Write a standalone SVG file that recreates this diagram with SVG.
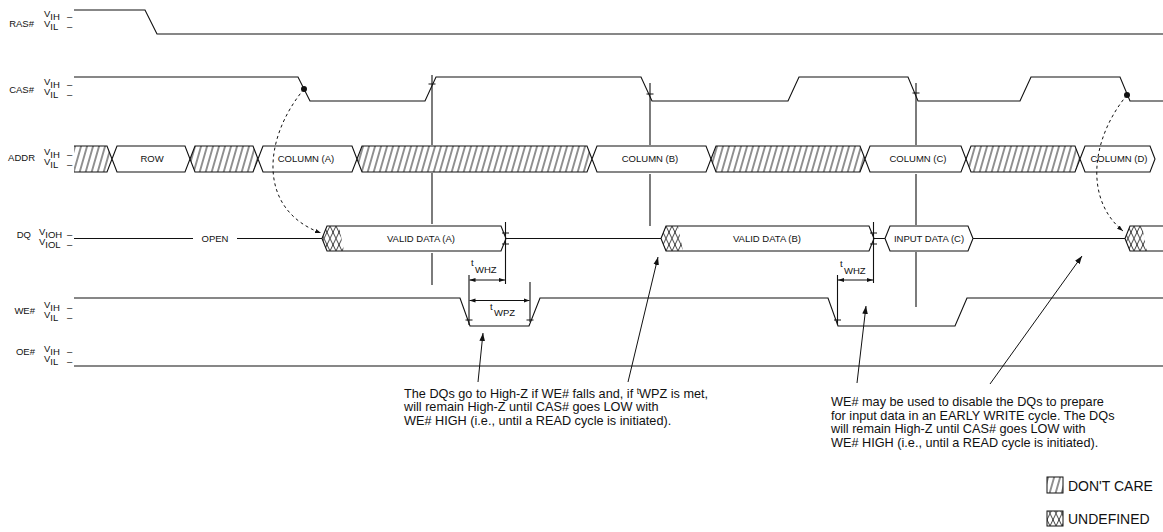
<svg xmlns="http://www.w3.org/2000/svg" width="1163" height="532" viewBox="0 0 1163 532">
<style>
.s{fill:none;stroke:#111;stroke-width:1.1}
.b{fill:#fff;stroke:#111;stroke-width:1.1}
.h{fill:url(#dc);stroke:none}
.x{fill:url(#ud);stroke:none}
.t{font-family:"Liberation Sans",Arial,sans-serif;font-size:9.5px;fill:#111}
.c{text-anchor:middle}
.e{text-anchor:end}
.a{font-family:"Liberation Sans",Arial,sans-serif;font-size:12.7px;fill:#111}
.g{font-family:"Liberation Sans",Arial,sans-serif;font-size:14px;fill:#111}
.d{fill:none;stroke:#111;stroke-width:1;stroke-dasharray:3 3}
.ar{fill:none;stroke:#111;stroke-width:1;marker-end:url(#ah2)}
.dm{fill:none;stroke:#111;stroke-width:1;marker-start:url(#ah);marker-end:url(#ah)}
</style>
<defs>
<pattern id="dc" patternUnits="userSpaceOnUse" width="6" height="10" patternTransform="skewX(-16)">
<line x1="3" y1="-1" x2="3" y2="11" stroke="#111" stroke-width="0.9"/>
</pattern>
<pattern id="ud" patternUnits="userSpaceOnUse" x="0" y="226" width="6" height="12.5">
<path d="M0,0 L6,12.5 M6,0 L0,12.5" stroke="#111" stroke-width="0.8"/>
</pattern>
<marker id="ah" viewBox="0 0 10 10" refX="10" refY="5" markerWidth="6" markerHeight="6" markerUnits="userSpaceOnUse" orient="auto-start-reverse">
<path d="M0,1.5 L10,5 L0,8.5 z" fill="#111"/>
</marker>
<marker id="ah2" viewBox="0 0 10 10" refX="10" refY="5" markerWidth="8" markerHeight="8" markerUnits="userSpaceOnUse" orient="auto">
<path d="M0,1.5 L10,5 L0,8.5 z" fill="#111"/>
</marker>
</defs>
<rect width="1163" height="532" fill="#fff"/>

<g id="ras">
<text class="t e" x="34" y="27.4">RAS#</text>
<text class="t" x="44" y="16.8">V<tspan dy="3">IH</tspan><tspan x="67">–</tspan></text>
<text class="t" x="44" y="26.8">V<tspan dy="3">IL</tspan><tspan x="67">–</tspan></text>
<path class="s" d="M74,10 H145 L157,34 H1163"/>
</g>

<g id="cas">
<text class="t e" x="34" y="93.4">CAS#</text>
<text class="t" x="44" y="84.8">V<tspan dy="3">IH</tspan><tspan x="67">–</tspan></text>
<text class="t" x="44" y="94.8">V<tspan dy="3">IL</tspan><tspan x="67">–</tspan></text>
<path class="s" d="M74,77 H298 L310,101 H425 L436,77 H641 L652,101 H788 L799,77 H908 L918,101 H1020 L1031,77 H1120 L1130,101 H1163"/>
<circle cx="304" cy="89" r="3" fill="#111"/>
<circle cx="1127" cy="95" r="3" fill="#111"/>
</g>

<g id="addr">
<text class="t e" x="35" y="161.4">ADDR</text>
<text class="t" x="44" y="154.8">V<tspan dy="3">IH</tspan><tspan x="67">–</tspan></text>
<text class="t" x="44" y="164.8">V<tspan dy="3">IL</tspan><tspan x="67">–</tspan></text>
<polygon class="h" points="74,146 107,146 112,159 107,172 74,172"/>
<path class="s" d="M74,146 H107 L112,159 L107,172 H74"/>
<polygon class="b" points="112,159 117,146 185,146 190,159 185,172 117,172"/>
<polygon class="b h" points="190,159 195,146 253,146 258,159 253,172 195,172"/>
<polygon class="s" points="190,159 195,146 253,146 258,159 253,172 195,172"/>
<polygon class="b" points="258,159 263,146 352,146 357,159 352,172 263,172"/>
<polygon class="h" points="357,159 362,146 587,146 592,159 587,172 362,172"/>
<polygon class="s" points="357,159 362,146 587,146 592,159 587,172 362,172"/>
<polygon class="b" points="592,159 597,146 706,146 711,159 706,172 597,172"/>
<polygon class="h" points="711,159 716,146 860,146 865,159 860,172 716,172"/>
<polygon class="s" points="711,159 716,146 860,146 865,159 860,172 716,172"/>
<polygon class="b" points="865,159 870,146 961,146 966,159 961,172 870,172"/>
<polygon class="h" points="966,159 971,146 1075,146 1080,159 1075,172 971,172"/>
<polygon class="s" points="966,159 971,146 1075,146 1080,159 1075,172 971,172"/>
<polygon class="b" points="1080,159 1085,146 1150,146 1155,159 1150,172 1085,172"/>
<text class="t c" x="152" y="162.4">ROW</text>
<text class="t c" x="306" y="162.4">COLUMN (A)</text>
<text class="t c" x="650" y="162.4">COLUMN (B)</text>
<text class="t c" x="918" y="162.4">COLUMN (C)</text>
<text class="t c" x="1119" y="162.4">COLUMN (D)</text>
</g>

<g id="dq">
<text class="t e" x="31" y="238.4">DQ</text>
<text class="t" x="39" y="234.8">V<tspan dy="3">IOH</tspan><tspan x="67">–</tspan></text>
<text class="t" x="39" y="244.8">V<tspan dy="3">IOL</tspan><tspan x="67">–</tspan></text>
<path class="s" d="M74,238.5 H193 M237,238.5 H322 M506,238.5 H661 M874,238.5 H885 M973,238.5 H1125"/>
<text class="t c" x="215" y="241.9">OPEN</text>
<polygon class="b" points="322,238.5 327,226 501,226 506,238.5 501,251 327,251"/>
<polygon class="x" points="322,238.5 327,226 339,226 344,251 327,251"/>
<polygon class="b" points="661,238.5 666,226 869,226 874,238.5 869,251 666,251"/>
<polygon class="x" points="661,238.5 666,226 678,226 683,251 666,251"/>
<polygon class="b" points="885,238.5 890,226 968,226 973,238.5 968,251 890,251"/>
<polygon class="x" points="1125,238.5 1130,226 1142,226 1147,251 1130,251"/>
<path class="s" d="M1163,226 H1130 L1125,238.5 L1130,251 H1163"/>
<text class="t c" x="421" y="241.9">VALID DATA (A)</text>
<text class="t c" x="767" y="241.9">VALID DATA (B)</text>
<text class="t c" x="929" y="241.9">INPUT DATA (C)</text>
</g>

<g id="we">
<text class="t e" x="35" y="314.4">WE#</text>
<text class="t" x="44" y="307.8">V<tspan dy="3">IH</tspan><tspan x="67">–</tspan></text>
<text class="t" x="44" y="317.8">V<tspan dy="3">IL</tspan><tspan x="67">–</tspan></text>
<path class="s" d="M74,298 H460 L470,326 H529 L540,298 H828 L838,326 H955 L967,298 H1163"/>
</g>

<g id="oe">
<text class="t e" x="35" y="355.4">OE#</text>
<text class="t" x="44" y="351.8">V<tspan dy="3">IH</tspan><tspan x="67">–</tspan></text>
<text class="t" x="44" y="361.8">V<tspan dy="3">IL</tspan><tspan x="67">–</tspan></text>
<path class="s" d="M74,366 H1163"/>
</g>

<g id="timing">
<path class="s" d="M432,75 V145 M432,173 V224 M432,253 V285 M650,83 V145 M650,174 V226 M916,83 V145 M916,174 V225 M916,252 V307"/>
<path class="s" d="M428.5,84 H435.5 M646.5,94 H653.5 M912.5,93 H919.5 M465.5,320 H472.5 M526.5,320 H533.5 M834,320 H841 M502,233 H509 M502,244 H509 M870,233 H877 M870,244 H877"/>
<path class="s" d="M505.5,222 V284 M469,275 V325 M530,282 V322 M873.5,222 V283 M837.5,275 V325"/>
<path class="dm" d="M469.5,280 H505"/>
<path class="dm" d="M469.5,300.5 H529.5"/>
<path class="dm" d="M838,280 H873"/>
<text class="t" x="471" y="266" font-size="7px">t</text>
<text class="t" x="475" y="273.4">WHZ</text>
<text class="t" x="490" y="310" font-size="7px">t</text>
<text class="t" x="494" y="316.4">WPZ</text>
<text class="t" x="840" y="267" font-size="7px">t</text>
<text class="t" x="844" y="274">WHZ</text>
</g>

<g id="note1">
<text class="a" x="404" y="397.5">The DQs go to High-Z if WE# falls and, if <tspan font-size="8.5px" dy="-3.5">t</tspan><tspan dy="3.5">WPZ is met,</tspan></text>
<text class="a" x="404" y="411">will remain High-Z until CAS# goes LOW with</text>
<text class="a" x="404" y="424.5">WE# HIGH (i.e., until a READ cycle is initiated).</text>
</g>

<g id="note2">
<text class="a" x="831" y="406">WE# may be used to disable the DQs to prepare</text>
<text class="a" x="831" y="419.5">for input data in an EARLY WRITE cycle. The DQs</text>
<text class="a" x="831" y="433">will remain High-Z until CAS# goes LOW with</text>
<text class="a" x="831" y="446.5">WE# HIGH (i.e., until a READ cycle is initiated).</text>
</g>

<g id="legend">
<rect x="1047" y="477" width="16" height="16" fill="url(#dc)" stroke="#111" stroke-width="1"/>
<text class="g" x="1068" y="491">DON'T CARE</text>
<rect x="1047" y="511" width="16" height="15" fill="url(#ud)" stroke="#111" stroke-width="1"/>
<text class="g" x="1068" y="524">UNDEFINED</text>
</g>

<g id="connectors">
<path class="d" d="M304,89 C262,140 258,210 321,233" marker-end="url(#ah)"/>
<path class="d" d="M1127,95 C1090,140 1085,200 1123,231" marker-end="url(#ah)"/>
<path class="ar" d="M478,382 L483,333"/>
<path class="ar" d="M628,382 L658,257"/>
<path class="ar" d="M857,383 L866,306"/>
<path class="ar" d="M990,384 L1082,256"/>
</g>
</svg>
